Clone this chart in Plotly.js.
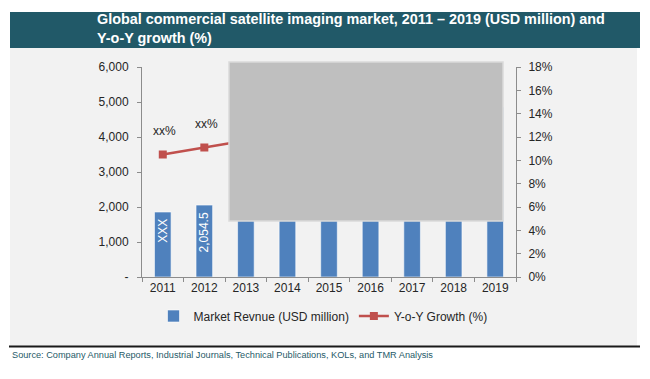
<!DOCTYPE html>
<html>
<head>
<meta charset="utf-8">
<script src="https://cdn.plot.ly/plotly-3.0.1.min.js"></script>
<style>html,body{margin:0;padding:0;background:#fff;}#chart{width:650px;height:379px;}</style>
</head>
<body>
<div id="chart"></div>
<script>
// ---- data ----
var years = ['2011','2012','2013','2014','2015','2016','2017','2018','2019'];
var revenue = [1857, 2054.5, 2300, 2600, 2950, 3350, 3800, 4300, 4850];
var revenueLabels = ['XXX', '2,054.5'];
var growth = [10.5, 11.1, 11.7, 12.1, 12.4, 12.7, 13.0, 13.2, 13.4];
var growthLabels = ['xx%', 'xx%'];
var leftTickVals = [0, 1000, 2000, 3000, 4000, 5000, 6000];
var leftTickText = ['-', '1,000', '2,000', '3,000', '4,000', '5,000', '6,000'];
var rightTickVals = [0, 2, 4, 6, 8, 10, 12, 14, 16, 18];
var rightTickText = ['0%', '2%', '4%', '6%', '8%', '10%', '12%', '14%', '16%', '18%'];
var titleText = 'Global commercial satellite imaging market, 2011 \u2013 2019 (USD million) and<br>Y-o-Y growth (%)';
var sourceText = 'Source: Company Annual Reports, Industrial Journals, Technical Publications, KOLs, and TMR Analysis';

// ---- layout helpers (pixel -> paper) ----
var W = 650, H = 379, PL = 142, PR = 516, PT = 67, PB = 277;
function px(x) { return (x - PL) / (PR - PL); }
function py(y) { return (PB - y) / (PB - PT); }

var FONT = 'Liberation Sans, Arial, sans-serif';
var tickColor = '#262626';
var axisColor = '#8c8c8c';

var traces = [
  {
    type: 'bar', x: years, y: revenue, name: 'Market Revnue (USD million)',
    marker: {color: '#4f81bd', line: {color: '#ffffff', width: 0.6}},
    hoverinfo: 'none'
  },
  {
    type: 'scatter', mode: 'lines+markers', x: years, y: growth, yaxis: 'y2',
    name: 'Y-o-Y Growth (%)',
    line: {color: '#c0504d', width: 2.5},
    marker: {symbol: 'square', size: 8, color: '#c0504d'},
    hoverinfo: 'none'
  }
];

var annotations = [
  {xref: 'paper', yref: 'paper', x: px(95), y: py(29), xanchor: 'left', yanchor: 'middle',
   text: '<b>' + titleText + '</b>', showarrow: false, align: 'left',
   font: {family: FONT, size: 14.4, color: '#ffffff'}},
  {xref: 'paper', yref: 'paper', x: px(10), y: py(355), xanchor: 'left', yanchor: 'middle',
   text: sourceText, showarrow: false, align: 'left',
   font: {family: FONT, size: 9.2, color: '#1f5a68'}}
];
growthLabels.forEach(function (t, i) {
  annotations.push({x: i, y: growth[i], xref: 'x', yref: 'y2', text: t,
    showarrow: false, yshift: 24, xshift: 2, font: {family: FONT, size: 12, color: '#262626'}});
});
revenueLabels.forEach(function (t, i) {
  annotations.push({x: i, y: revenue[i], xref: 'x', yref: 'y', text: t,
    showarrow: false, textangle: -90, yanchor: 'top', yshift: -6, borderpad: 0,
    font: {family: FONT, size: 12, color: '#ffffff'}});
});

var shapes = [
  {type: 'rect', xref: 'paper', yref: 'paper', layer: 'below',
   x0: px(10), x1: px(637), y0: py(346), y1: py(48), fillcolor: '#f2f2f2', line: {width: 0}},
  {type: 'rect', xref: 'paper', yref: 'paper', layer: 'below',
   x0: px(10), x1: px(640), y0: py(48), y1: py(12), fillcolor: '#215968', line: {width: 0}},
  {type: 'line', xref: 'paper', yref: 'paper', layer: 'above',
   x0: px(9), x1: px(640), y0: py(346.5), y1: py(346.5), line: {color: '#1a1a1a', width: 2}},
  {type: 'rect', xref: 'paper', yref: 'paper', layer: 'above',
   x0: px(229), x1: px(503), y0: py(221), y1: py(62), fillcolor: '#bfbfbf',
   line: {color: '#dadada', width: 1.5}}
];

var layout = {
  width: W, height: H,
  margin: {l: PL, r: W - PR, t: PT, b: H - PB, pad: 0},
  paper_bgcolor: '#ffffff', plot_bgcolor: 'rgba(0,0,0,0)',
  font: {family: FONT, size: 12, color: tickColor},
  bargap: 0.6,
  showlegend: true,
  legend: {orientation: 'h', x: px(323), xanchor: 'center', y: py(316), yanchor: 'middle',
           bgcolor: 'rgba(0,0,0,0)', font: {family: FONT, size: 12, color: tickColor},
           traceorder: 'normal'},
  xaxis: {type: 'category', range: [-0.5, 8.5], autorange: false,
          showgrid: false, zeroline: false, showline: true,
          linecolor: axisColor, linewidth: 1, ticks: 'outside', ticklen: 4,
          tickcolor: axisColor, tickson: 'boundaries',
          tickfont: {family: FONT, size: 12, color: tickColor}},
  yaxis: {range: [0, 6000], autorange: false, tickvals: leftTickVals, ticktext: leftTickText,
          showgrid: false, zeroline: false, showline: true, linecolor: axisColor,
          ticks: 'outside', ticklen: 4, tickcolor: axisColor, ticklabelstandoff: 6,
          tickfont: {family: FONT, size: 12, color: tickColor}},
  yaxis2: {range: [0, 18], autorange: false, tickvals: rightTickVals, ticktext: rightTickText,
           overlaying: 'y', side: 'right', showgrid: false, zeroline: false,
           showline: true, linecolor: axisColor, ticks: 'outside', ticklen: 4,
           tickcolor: axisColor, ticklabelstandoff: 5,
           tickfont: {family: FONT, size: 12, color: tickColor}},
  shapes: shapes,
  annotations: annotations
};

Plotly.newPlot('chart', traces, layout, {displayModeBar: false, staticPlot: true});
</script>
</body>
</html>
